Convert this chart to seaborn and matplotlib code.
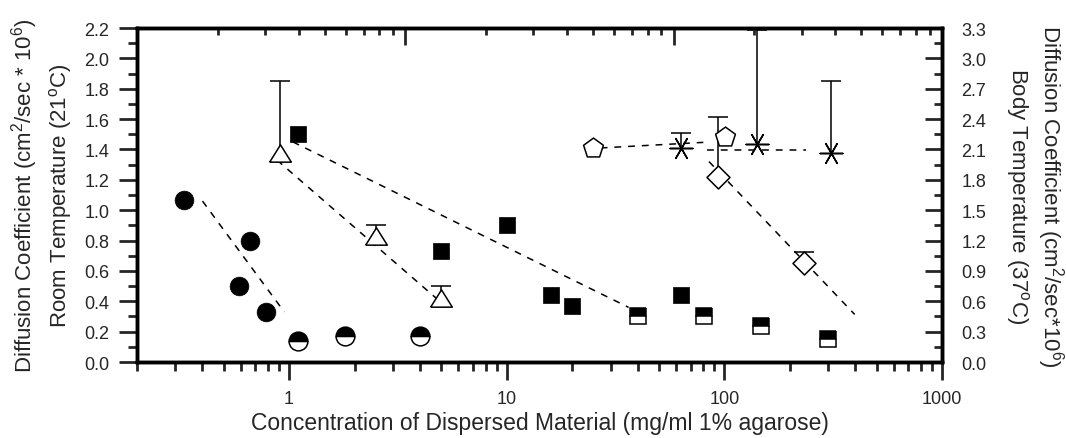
import numpy as np
import seaborn as sns
import matplotlib
matplotlib.use('Agg')
from matplotlib import pyplot as plt
from matplotlib.ticker import MultipleLocator, LogLocator, NullFormatter, FixedLocator

# room temperature series (left axis)
circ_x = [0.33, 0.59, 0.66, 0.78]
circ_y = [1.07, 0.50, 0.80, 0.33]
hcirc_x = [1.1, 1.8, 4.0]
hcirc_y = [0.14, 0.17, 0.17]
tri_x = [0.91, 2.5, 5.0]
tri_y = [1.38, 0.83, 0.42]
tri_err = [0.47, 0.07, 0.08]
sq_x = [1.1, 5.0, 10, 16, 20, 63]
sq_y = [1.50, 0.73, 0.90, 0.44, 0.37, 0.44]
hsq_x = [40, 81, 148, 298]
hsq_y = [0.30, 0.30, 0.24, 0.15]

# body temperature series (right axis)
pent_x = [25, 101]
pent_y = [2.11, 2.22]
star_x = [63.5, 141.6, 309]
star_y = [2.11, 2.15, 2.07]
star_err = [0.15, 1.13, 0.71]
dia_x = [93, 233]
dia_y = [1.83, 0.98]
dia_err = [0.59, 0.11]

# dashed trend lines (end points)
circ_fit_x, circ_fit_y = [0.40, 0.95], [1.06, 0.33]
tri_fit_x, tri_fit_y = [0.88, 5.3], [1.33, 0.36]
sq_fit_x, sq_fit_y = [1.04, 36.3], [1.45, 0.36]
pent_fit_x, pent_fit_y = [27, 80], [2.115, 2.17]
star_fit_x, star_fit_y = [83, 236], [2.09, 2.09]
dia_fit_x, dia_fit_y = [85, 397], [1.98, 0.47]

sns.set_style('ticks')
plt.rcParams['font.family'] = ['Liberation Sans', 'DejaVu Sans']
plt.rcParams['mathtext.fontset'] = 'custom'
plt.rcParams['mathtext.rm'] = 'Liberation Sans'
plt.rcParams['mathtext.it'] = 'Liberation Sans:italic'

fig = plt.figure(figsize=(10.66, 4.39), dpi=100)
ax = fig.add_axes([0.1285, 0.1731, 0.7552, 0.7608])
ax.set_xscale('log')
ax2 = ax.twinx()
axt = ax.twiny()

DASH = (0, (4.5, 4.5))
for a, fx, fy in [(ax, circ_fit_x, circ_fit_y), (ax, tri_fit_x, tri_fit_y),
                  (ax, sq_fit_x, sq_fit_y), (ax2, pent_fit_x, pent_fit_y),
                  (ax2, star_fit_x, star_fit_y), (ax2, dia_fit_x, dia_fit_y)]:
    sns.lineplot(x=fx, y=fy, ax=a, color='black', linewidth=1.1, linestyle=DASH, zorder=1)


def upper_err(a, x, y, err):
    top = np.array(y) + np.array(err)
    a.vlines(x, y, top, color='black', linewidth=1.1, zorder=2)
    a.plot(x, top, ls='', marker='_', ms=14.4, mew=1.1, color='black', zorder=2)


upper_err(ax, tri_x, tri_y, tri_err)
upper_err(ax2, star_x, star_y, star_err)
upper_err(ax2, dia_x, dia_y, dia_err)

tri_marker = [(-1, -0.8), (1, -0.8), (0, 0.8), (-1, -0.8)]
sns.scatterplot(x=circ_x, y=circ_y, ax=ax, marker='o', s=182, color='black',
                edgecolor='black', linewidth=0.5, zorder=3)
sns.scatterplot(x=sq_x, y=sq_y, ax=ax, marker='s', s=144, color='black',
                edgecolor='black', linewidth=0.5, zorder=3)
sns.scatterplot(x=tri_x, y=tri_y, ax=ax, marker=tri_marker, s=243, color='white',
                edgecolor='black', linewidth=1.1, zorder=3)
ax.plot(hcirc_x, hcirc_y, ls='', marker='o', ms=13.5, fillstyle='top',
        markerfacecolor='black', markerfacecoloralt='white', markeredgecolor='black',
        markeredgewidth=1.1, zorder=3)
ax.plot(hsq_x, hsq_y, ls='', marker='s', ms=12, fillstyle='top',
        markerfacecolor='black', markerfacecoloralt='white', markeredgecolor='black',
        markeredgewidth=1.1, zorder=3)

sns.scatterplot(x=pent_x, y=pent_y, ax=ax2, marker='p', s=225, color='white',
                edgecolor='black', linewidth=1.1, zorder=3)
sns.scatterplot(x=dia_x, y=dia_y, ax=ax2, marker='D', s=137, color='white',
                edgecolor='black', linewidth=1.1, zorder=3)
ax2.scatter(star_x, star_y, marker=(6, 2, 90), s=270, color='black',
            linewidth=1.1, zorder=3)

# axes limits and ticks
ax.set_xlim(0.2, 1000)
ax.set_ylim(0, 2.2)
ax2.set_ylim(0, 3.3)
axt.set_xscale('log')
axt.set_xlim(1, 1000)

ax.set_xticks([1, 10, 100, 1000], labels=['1', '10', '100', '1000'])
ax.xaxis.set_minor_locator(LogLocator(base=10, subs=np.arange(2, 10)))
ax.xaxis.set_minor_formatter(NullFormatter())
ax.set_yticks(np.round(np.arange(0, 2.21, 0.2), 1))
ax.set_yticklabels([f'{v:.1f}' for v in np.arange(0, 2.21, 0.2)])
ax.yaxis.set_minor_locator(MultipleLocator(0.1))
ax2.set_yticks(np.round(np.arange(0, 3.31, 0.3), 1))
ax2.set_yticklabels([f'{v:.1f}' for v in np.arange(0, 3.31, 0.3)])
ax2.yaxis.set_minor_locator(MultipleLocator(0.15))
axt.xaxis.set_major_locator(FixedLocator([1, 10, 100, 1000]))
axt.xaxis.set_minor_locator(LogLocator(base=10, subs=np.arange(2, 10)))
axt.xaxis.set_major_formatter(NullFormatter())
axt.xaxis.set_minor_formatter(NullFormatter())

ax.tick_params(axis='both', which='major', direction='out', length=13, width=2.0,
               labelsize=13, pad=7)
ax.tick_params(axis='both', which='minor', direction='out', length=6.5, width=2.0)
ax2.tick_params(axis='y', which='major', direction='in', length=12, width=2.0,
                labelsize=13, pad=14)
ax2.tick_params(axis='y', which='minor', direction='in', length=6, width=2.0)
axt.tick_params(axis='x', which='major', direction='in', length=12, width=2.0)
axt.tick_params(axis='x', which='minor', direction='in', length=5, width=2.0)

for a in (ax, ax2, axt):
    for s in a.spines.values():
        s.set_linewidth(2.4)
        s.set_color('black')

ax.set_xlabel('Concentration of Dispersed Material (mg/ml 1% agarose)', fontsize=16.5, labelpad=3)
ax.set_ylabel('')
ax2.set_ylabel('')

fig.text(25 / 1066, 0.5535, 'Diffusion Coefficient (cm$^2$/sec * 10$^6$)',
         rotation=90, ha='center', va='center', fontsize=16)
fig.text(61 / 1066, 0.5535, 'Room Temperature (21$^\\mathrm{o}$C)',
         rotation=90, ha='center', va='center', fontsize=16)
fig.text(1050 / 1066, 0.5535, 'Diffusion Coefficient (cm$^2$/sec*10$^6$)',
         rotation=270, ha='center', va='center', fontsize=16)
fig.text(1017 / 1066, 0.5535, 'Body Temperature (37$^\\mathrm{o}$C)',
         rotation=270, ha='center', va='center', fontsize=16)

fig.savefig('out.png', dpi=100)
